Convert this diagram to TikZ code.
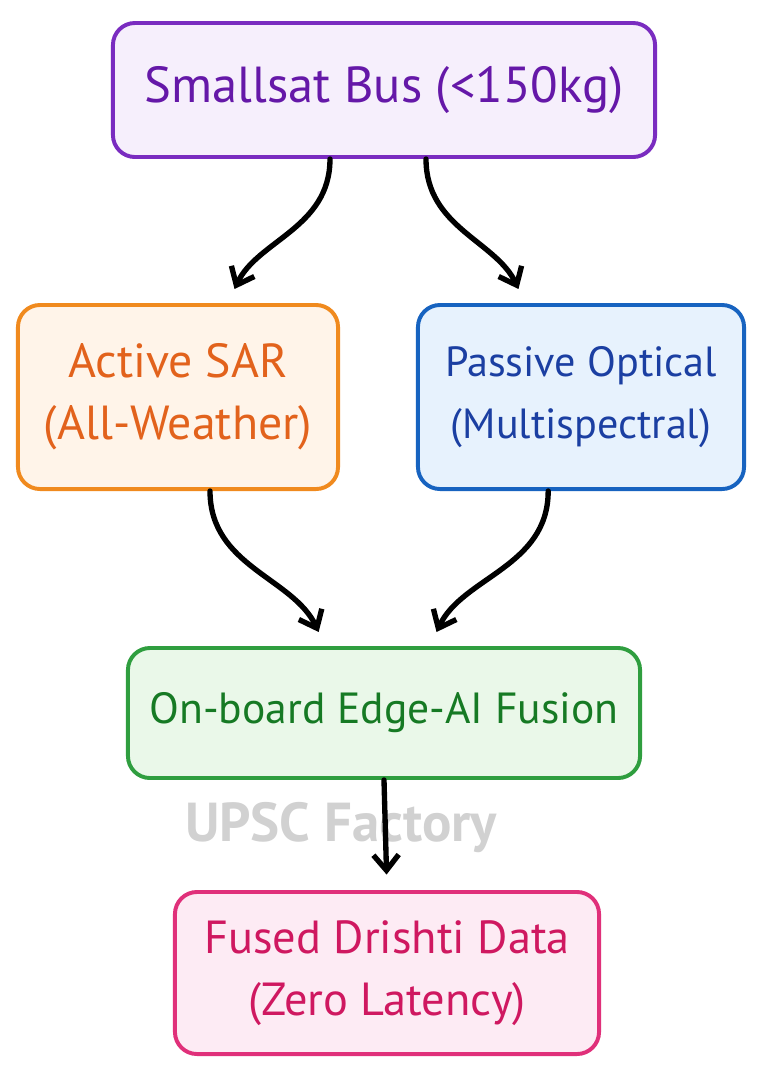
\documentclass[tikz,border=0pt]{standalone}
\usepackage{fontspec}
\setmainfont{PT Sans}
\usepackage {tikz}
\usetikzlibrary {arrows.meta}
\definecolor {buspurple}{HTML}{7A2CC0}
\definecolor {busfill}{HTML}{F6EFFC}
\definecolor {bustext}{HTML}{6518A8}
\definecolor {sarorange}{HTML}{F08A1E}
\definecolor {sarfill}{HTML}{FFF4E9}
\definecolor {sartext}{HTML}{E2621C}
\definecolor {optblue}{HTML}{1763C0}
\definecolor {optfill}{HTML}{E7F2FD}
\definecolor {opttext}{HTML}{1B3FA2}
\definecolor {fusgreen}{HTML}{2F9E3F}
\definecolor {fusfill}{HTML}{EAF8E9}
\definecolor {fustext}{HTML}{167A24}
\definecolor {datapink}{HTML}{E0307A}
\definecolor {datafill}{HTML}{FDEBF4}
\definecolor {datatext}{HTML}{CF1860}

\begin{document}
\begin{tikzpicture}[x=0.025cm,y=-0.025cm,shorten >=11pt,-{Straight Barb[length=11pt,width=18pt,line width=3.8pt]},line width=3.8pt,line cap=round]
  \tikzstyle{block}=[rectangle, rounded corners=0.55cm, line width=2.8pt, align=center, font=\fontsize{34}{44}\selectfont]
  \useasboundingbox (0,0) rectangle (763,1080);
  \node[block, draw=buspurple, fill=busfill, text=bustext, minimum width=13.55cm, minimum height=3.35cm, font=\fontsize{36}{44}\selectfont] (bus) at (384,90) {Smallsat Bus (<150kg)};
  \node[block, draw=sarorange, fill=sarfill, text=sartext, minimum width=8cm, minimum height=4.6cm] (sar) at (178,397) {Active SAR\\(All-Weather)};
  \node[block, draw=optblue, fill=optfill, text=opttext, minimum width=8.15cm, minimum height=4.6cm, font=\fontsize{30}{44}\selectfont] (opt) at (581,397) {Passive Optical\\(Multispectral)};
  \node[block, draw=fusgreen, fill=fusfill, text=fustext, minimum width=12.8cm, minimum height=3.25cm, font=\fontsize{31}{44}\selectfont] (fus) at (384,713) {On-board Edge-AI Fusion};
  \node[block, draw=datapink, fill=datafill, text=datatext, minimum width=10.6cm, minimum height=4.05cm, font=\fontsize{33}{44}\selectfont] (out) at (387,973) {Fused Drishti Data\\(Zero Latency)};
  \node[text=black!18, font=\bfseries\fontsize{39}{44}\selectfont] (mark) at (341,828) {UPSC Factory};

  \draw ([xshift=-1.35cm]bus.south) to[out=-90,in=65] ([xshift=1.25cm]sar.north);
  \draw ([xshift=1.05cm]bus.south) to[out=-90,in=115] ([xshift=-1.4cm]opt.north);

  \draw ([xshift=0.8cm]sar.south) to[out=-90,in=115] ([xshift=-1.47cm]fus.north);
  \draw ([xshift=-0.82cm]opt.south) to[out=-90,in=65] ([xshift=1.15cm]fus.north);

  \draw (fus.south) -- (out.north);
\end{tikzpicture}
\end{document}
